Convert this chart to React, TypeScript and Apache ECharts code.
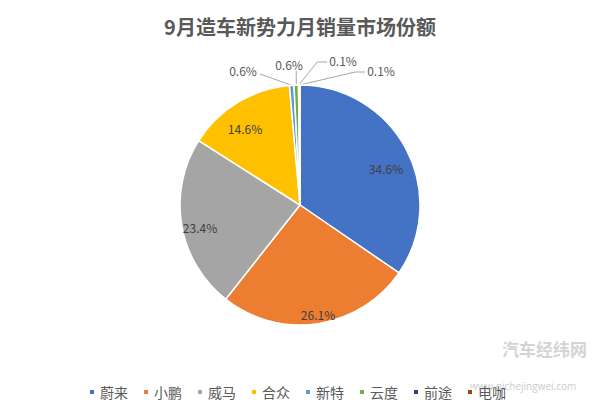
import React, { useEffect, useRef } from "react";
import * as echarts from "echarts";

const TITLE = "9月造车新势力月销量市场份额";
const CATEGORIES = ["蔚来", "小鹏", "威马", "合众", "新特", "云度", "前途", "电咖"];
const SHARES = [34.6, 26.1, 23.4, 14.6, 0.6, 0.6, 0.1, 0.1];
const COLORS = ["#4472C4", "#ED7D31", "#A5A5A5", "#FFC000", "#5B9BD5", "#70AD47", "#264478", "#9E480E"];

// label placement (layout only)
const LABEL_POS: [number, number][] = [
  [386, 168],
  [318, 314],
  [200, 227],
  [245, 128],
  [243, 70],
  [289, 64],
  [343, 60],
  [381, 70],
];
const OUTSIDE_COUNT_START = 4;

export default function App() {
  const ref = useRef<HTMLDivElement>(null);
  useEffect(() => {
    if (!ref.current) return;
    const chart = echarts.init(ref.current, null, { renderer: "svg" });
    const font = "'Noto Sans CJK SC', 'Noto Sans', sans-serif";
    const data = CATEGORIES.map((name, i) => {
      const outside = i >= OUTSIDE_COUNT_START;
      return {
        name,
        value: SHARES[i],
        itemStyle: { color: COLORS[i] },
        label: {
          position: outside ? "outside" : "inside",
          color: outside ? "#595959" : "#404040",
        },
        labelLine: { show: outside },
      };
    });
    chart.setOption({
      animation: false,
      backgroundColor: "#ffffff",
      title: {
        text: TITLE,
        left: "center",
        top: 11,
        textStyle: { fontFamily: font, fontSize: 20, fontWeight: "bold", color: "#595959" },
      },
      legend: {
        data: CATEGORIES,
        left: 83,
        top: 380,
        icon: "rect",
        itemWidth: 6,
        itemHeight: 6,
        itemGap: 14,
        textStyle: { fontFamily: font, fontSize: 14, color: "#595959" },
      },
      graphic: [
        {
          type: "text",
          left: 502,
          top: 340,
          style: { text: "汽车经纬网", fontFamily: font, fontSize: 17, fontWeight: "bold", fill: "#d4d4d4" },
          z: -1,
        },
        {
          type: "text",
          left: 470,
          top: 381,
          style: { text: "www.qichejingwei.com", fontFamily: "'Open Sans', sans-serif", fontSize: 10, fill: "#cccccc" },
          z: -1,
        },
      ],
      series: [
        {
          type: "pie",
          center: [300, 205],
          radius: [0, 120],
          startAngle: 90,
          clockwise: true,
          avoidLabelOverlap: false,
          data,
          itemStyle: { borderColor: "#ffffff", borderWidth: 1.5 },
          label: {
            show: true,
            formatter: (p: any) => p.value.toFixed(1) + "%",
            fontFamily: font,
            fontSize: 12,
          },
          labelLine: { lineStyle: { color: "#a6a6a6", width: 1 } },
          labelLayout: (p: any) => {
            const [x, y] = LABEL_POS[p.dataIndex];
            const res: any = { x, y, align: "center", verticalAlign: "middle" };
            if (p.dataIndex >= OUTSIDE_COUNT_START && p.labelLinePoints) {
              const edge = p.labelLinePoints[0];
              const w = p.labelRect.width;
              if (p.dataIndex === 4) {
                res.labelLinePoints = [edge, [x + w / 2 + 3, y + 4], [x + w / 2 + 3, y + 4]];
              } else if (p.dataIndex === 5) {
                res.labelLinePoints = [edge, [edge[0], y + 7], [edge[0], y + 7]];
              } else {
                const lx = x - w / 2 - 2;
                res.labelLinePoints = [edge, [lx - 10, y + 2], [lx, y + 2]];
              }
            }
            return res;
          },
        },
      ],
    });
    return () => chart.dispose();
  }, []);
  return (
    <div
      ref={ref}
      style={{ position: "absolute", left: 0, top: 0, width: 600, height: 416 }}
    />
  );
}
